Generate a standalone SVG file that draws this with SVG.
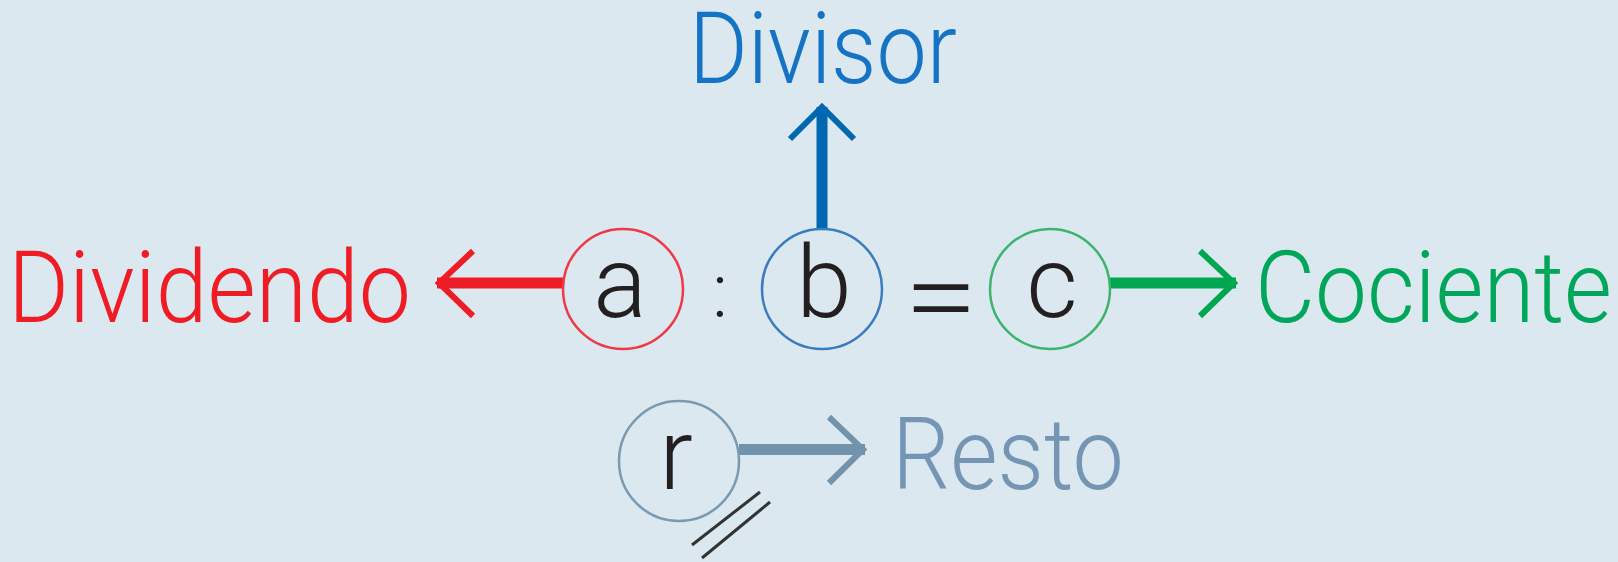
<svg xmlns="http://www.w3.org/2000/svg" width="1618" height="562" viewBox="0 0 1618 562">
<style>
.lbl{font-family:Roboto,"Liberation Sans",Arial,sans-serif;font-weight:300;font-size:100px}
.sym{font-family:Roboto,"Liberation Sans",Arial,sans-serif;font-weight:300;font-size:100px;fill:#231f20;text-anchor:middle}
.ring{fill:none;stroke-width:2.5}
.shaft{stroke-width:11;fill:none}
.head{stroke-width:6;fill:none;stroke-linejoin:miter;stroke-linecap:butt}
</style>
<rect width="1618" height="562" fill="#dce8f0"/>
<g id="connectors">
  <line class="shaft" x1="563" y1="283" x2="437" y2="283" stroke="#ee1c25"/>
  <polyline class="head" points="473,251 439,283 473,316" stroke="#ee1c25"/>
  <line class="shaft" x1="822" y1="229" x2="822" y2="107" stroke="#0067b1"/>
  <polyline class="head" points="790,139 822,107 854,139" stroke="#0067b1"/>
  <line class="shaft" x1="1110" y1="283" x2="1236" y2="283" stroke="#00a650"/>
  <polyline class="head" points="1200,251 1234,283 1200,316" stroke="#00a650"/>
  <line class="shaft" x1="739" y1="449.5" x2="865" y2="449.5" stroke="#7193ac"/>
  <polyline class="head" points="829,417 863,449.5 829,483" stroke="#7193ac"/>
</g>
<g id="node-divisor"><text class="lbl" x="689" y="83" fill="#1473c4" textLength="268" lengthAdjust="spacingAndGlyphs">Divisor</text></g>
<g id="node-dividendo"><text class="lbl" x="8" y="322" fill="#ee1c25" textLength="403" lengthAdjust="spacingAndGlyphs">Dividendo</text></g>
<g id="node-cociente"><text class="lbl" x="1255" y="322" fill="#00a65a" textLength="357" lengthAdjust="spacingAndGlyphs">Cociente</text></g>
<g id="node-resto"><text class="lbl" x="892" y="489" fill="#7496b4" textLength="232" lengthAdjust="spacingAndGlyphs">Resto</text></g>
<g id="node-a"><circle class="ring" cx="623" cy="289" r="60" stroke="#ee3a46"/><text class="sym" x="620" y="317">a</text></g>
<g id="node-colon"><text class="sym" x="720" y="317" style="font-size:76px">:</text></g>
<g id="node-b"><circle class="ring" cx="822" cy="289" r="60" stroke="#3a7cc0"/><text class="sym" x="824" y="317">b</text></g>
<g id="node-eq"><text class="sym" x="941" y="334" style="font-size:110px" textLength="74" lengthAdjust="spacingAndGlyphs">=</text></g>
<g id="node-c"><circle class="ring" cx="1050" cy="289" r="60" stroke="#3cb46e"/><text class="sym" x="1052" y="317">c</text></g>
<g id="node-r"><circle class="ring" cx="679" cy="461" r="60" stroke="#7a9ab2"/><text class="sym" x="676" y="489">r</text>
  <line x1="692" y1="545" x2="760" y2="492" stroke="#333" stroke-width="3"/>
  <line x1="702" y1="558" x2="770" y2="502" stroke="#333" stroke-width="3"/>
</g>
</svg>
